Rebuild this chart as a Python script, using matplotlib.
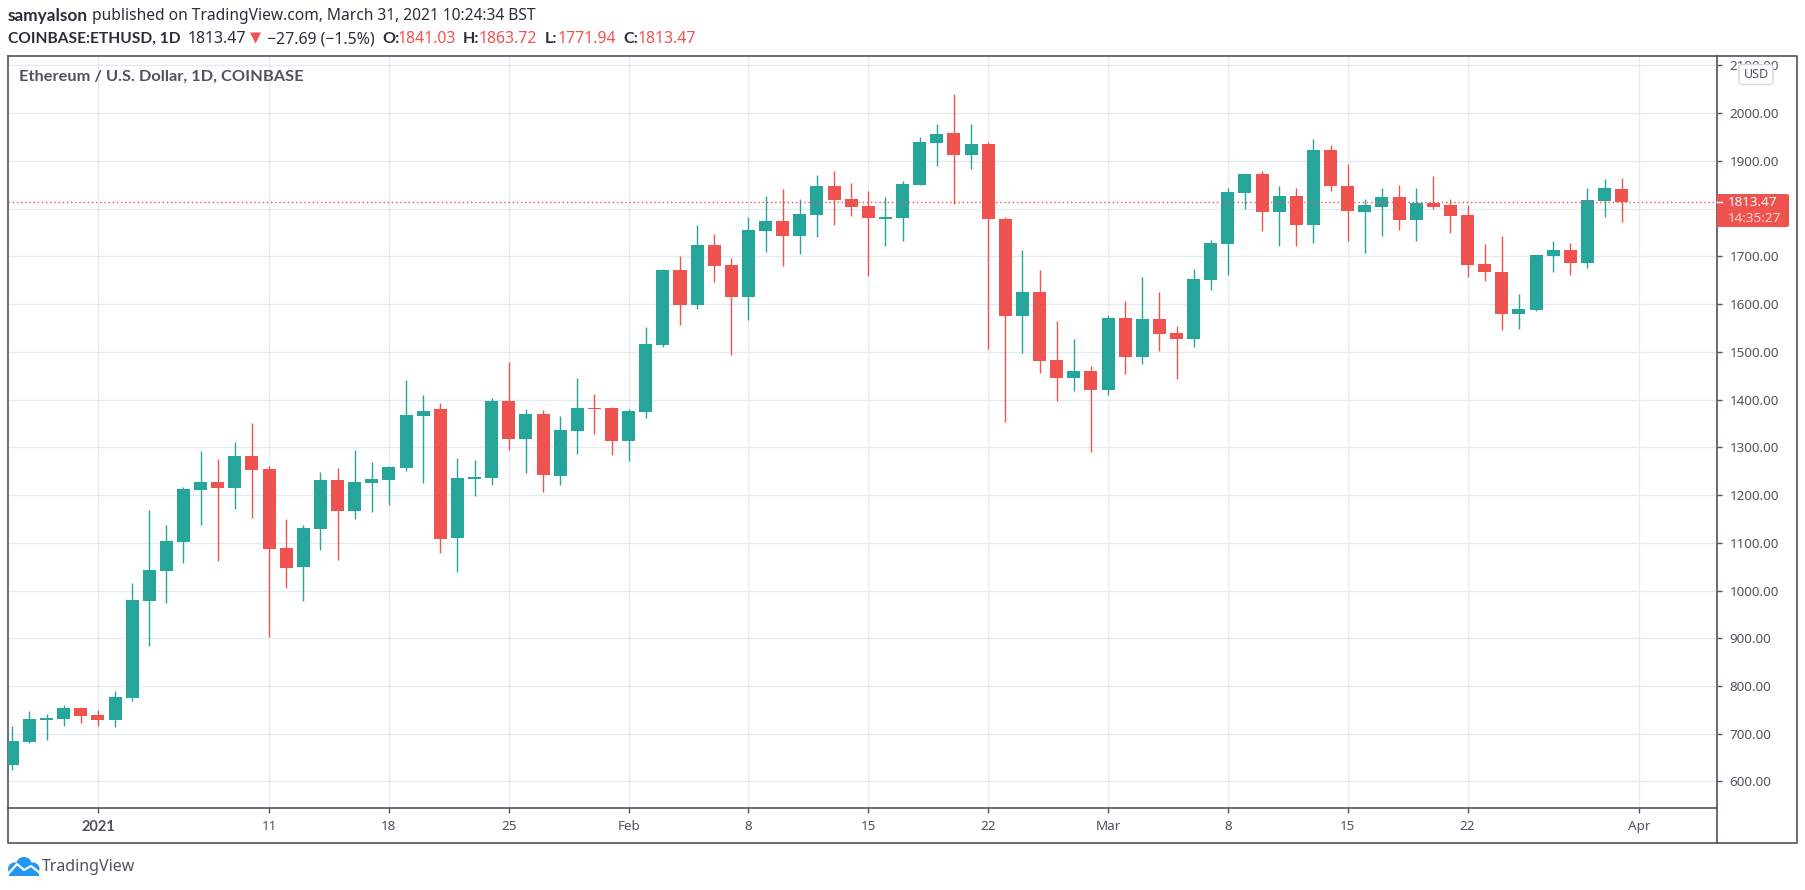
"""ETHUSD daily candles, TradingView snapshot style."""
import matplotlib
matplotlib.use('Agg')
import matplotlib.pyplot as plt
import matplotlib.dates as mdates
import pandas as pd
from matplotlib.patches import Circle, FancyBboxPatch, Polygon, Rectangle

plt.rcParams['font.family'] = ['Noto Sans', 'DejaVu Sans']

W, H = 1805, 890
UP, DOWN = '#26a69a', '#ef5350'
INK, GRID = '#50535e', '#e3ebf1'
BLUE = '#2196f3'
BOLD = ['Lato', 'DejaVu Sans']

first_day = '2020-12-27'
opens = [634, 682, 728, 730.5, 753.6, 739, 728, 774.5, 977.7, 1040.5, 1101, 1210, 1227, 1214, 1281, 1254,
         1089, 1049, 1128, 1231, 1166, 1225, 1231, 1256, 1365, 1380, 1110, 1233, 1235.4, 1397, 1317, 1369.5,
         1240, 1334, 1382, 1382, 1313, 1373.6, 1514, 1671, 1598, 1723, 1681.5, 1614.5, 1753, 1773.6, 1742, 1786,
         1847, 1820, 1805, 1779, 1781, 1850, 1938, 1959, 1913, 1936, 1779, 1575.6, 1626, 1483, 1444, 1460,
         1420.6, 1571, 1488, 1569, 1540, 1527, 1651, 1726, 1833, 1873, 1793.4, 1827, 1764.6, 1921.6, 1848, 1792,
         1804, 1825, 1775, 1810.6, 1806.5, 1785.5, 1683, 1668, 1580, 1586.6, 1700, 1714, 1685, 1815, 1841.03]
highs = [716, 747, 741, 760, 755.7, 749, 789, 1015, 1168, 1137, 1216, 1292, 1275, 1311, 1350, 1260,
         1149, 1137, 1248, 1256, 1294, 1269, 1260, 1440, 1409, 1392, 1277, 1273, 1403, 1478, 1380, 1378,
         1365, 1445, 1411, 1384, 1380, 1552, 1673, 1700, 1765, 1746, 1696, 1782, 1826, 1841, 1820, 1870,
         1878, 1853, 1836, 1825, 1858, 1950, 1976, 2040.5, 1978, 1940, 1783, 1714, 1672, 1565, 1526, 1471,
         1576, 1607, 1657, 1626, 1553, 1674, 1735, 1844, 1873, 1879, 1848, 1842, 1944.7, 1932, 1894, 1819,
         1842, 1850, 1842, 1869, 1819, 1806.5, 1725, 1741.5, 1622, 1702, 1733, 1727, 1842, 1861, 1863.72]
lows = [624, 681, 686.5, 716, 722, 716, 714, 768, 883, 973.5, 1057, 1137, 1061, 1170, 1151.5, 902,
        1005, 978, 1084.5, 1063.5, 1149, 1164, 1179, 1250, 1226, 1078, 1038.7, 1198, 1221, 1294, 1246, 1206,
        1221, 1286, 1328, 1284, 1271, 1361, 1510, 1556, 1589, 1646, 1493, 1566, 1709, 1679, 1704, 1740,
        1765, 1784, 1658, 1722, 1733, 1849, 1888, 1810, 1883, 1506, 1353.6, 1498, 1456, 1397.5, 1418.5, 1291,
        1410, 1454, 1475, 1502, 1442, 1511, 1630, 1661, 1798, 1753.6, 1722, 1720.6, 1727, 1836, 1733, 1706,
        1741.5, 1756, 1733, 1800, 1748, 1656, 1649, 1544.7, 1547, 1586, 1666, 1660, 1674.5, 1783, 1771.94]
closes = [684.5, 730.5, 732.6, 753.6, 737, 728, 776.6, 980, 1042.6, 1103, 1212, 1227, 1214, 1281, 1252, 1087,
          1047, 1130.5, 1231, 1166, 1227, 1233, 1258, 1367, 1376, 1107.5, 1235, 1237.5, 1397, 1317, 1369.5, 1242,
          1336, 1382, 1380, 1313, 1376, 1516, 1671, 1598, 1723, 1679, 1614.5, 1755, 1773.6, 1742, 1788, 1847,
          1818, 1803, 1780, 1783, 1852, 1940, 1957, 1913, 1936, 1777, 1575.6, 1626, 1481, 1444, 1460, 1420.6,
          1571.4, 1488, 1569, 1538, 1527, 1653, 1728.4, 1835, 1873, 1793.4, 1827, 1766, 1921.6, 1848, 1794, 1806.5,
          1825, 1775, 1810.6, 1804, 1783.4, 1681, 1666, 1580, 1588.6, 1702, 1714, 1685, 1817, 1842, 1813.47]
price_ticks = [600, 700, 800, 900, 1000, 1100, 1200, 1300, 1400, 1500, 1600, 1700, 1800, 1900, 2000, 2100]
date_ticks = ['2021-01-01', '2021-01-11', '2021-01-18', '2021-01-25', '2021-02-01', '2021-02-08', '2021-02-15',
              '2021-02-22', '2021-03-01', '2021-03-08', '2021-03-15', '2021-03-22', '2021-04-01']
date_labels = ['2021', '11', '18', '25', 'Feb', '8', '15', '22', 'Mar', '8', '15', '22', 'Apr']
last_price = 1813.47

fig = plt.figure(figsize=(W / 100, H / 100), dpi=100, facecolor='white')

# chart panel sits at x 8..1716.5, y 56..808 in pixels
ax = fig.add_axes([8 / W, 1 - 808 / H, (1716.5 - 8) / W, (808 - 56) / H])
days = mdates.date2num(pd.date_range(first_day, periods=len(opens)))
cols = [UP if c >= o else DOWN for o, c in zip(opens, closes)]
tops = [max(o, c) for o, c in zip(opens, closes)]
bots = [min(o, c) for o, c in zip(opens, closes)]

ax.vlines(days, lows, highs, colors=cols, lw=1.0, zorder=3)
ax.bar(days, [t - b for t, b in zip(tops, bots)], bottom=bots, width=0.76, color=cols, lw=0, zorder=4)
ax.axhline(last_price, color=DOWN, ls=(0, (1, 2)), lw=1.0, zorder=5)

day0 = days[0]
ax.set_xlim(day0 - 0.25, day0 + 99.54)
ax.set_ylim(544.5, 2119.4)
ax.set_xticks(mdates.date2num(pd.to_datetime(date_ticks)))
ax.set_xticklabels(date_labels, fontsize=9.7, color=INK)
ax.get_xticklabels()[0].set_family(BOLD)
ax.get_xticklabels()[0].set_fontweight('bold')
ax.get_xticklabels()[0].set_fontsize(10.5)
ax.yaxis.tick_right()
ax.set_yticks(price_ticks)
# the 1800 label is hidden behind the last price tag
ax.set_yticklabels(['' if p == 1800 else f'{p:.2f}' for p in price_ticks], fontsize=9.7, color=INK)
ax.tick_params(axis='x', length=3.5, width=1, color=INK, pad=5)
ax.tick_params(axis='y', length=3.5, width=1, color=INK, pad=6)
ax.grid(color=GRID, lw=1)
ax.set_axisbelow(True)
for s in ax.spines.values():
    s.set_color(INK)
    s.set_linewidth(1.2)

# overlay in pixel coordinates for the frame, header text and logo
ov = fig.add_axes([0, 0, 1, 1], zorder=10)
ov.set_xlim(0, W); ov.set_ylim(H, 0); ov.axis('off')
ov.plot([1716.5, 1797, 1797, 8, 8], [56, 56, 843, 843, 808], color=INK, lw=1.2)
ov.plot([1716.5, 1716.5], [808, 843], color=INK, lw=1.2)


def txt(x, y, s, color='#2a2e39', fs=11.2, **kw):
    ov.text(x, y, s, color=color, fontsize=fs, va='center', **kw)


def bold(x, y, s, color='#2a2e39', fs=11.2):
    ov.text(x, y, s, color=color, fontsize=fs, va='center', family=BOLD, fontweight='bold')


bold(8, 16.5, 'samyalson', fs=12.4)
txt(92.5, 16.5, 'published on TradingView.com, March 31, 2021 10:24:34 BST')
bold(8, 39, 'COINBASE:ETHUSD, 1D')
txt(187.5, 39, '1813.47', fs=11.4)
ov.add_patch(Polygon([(250, 32.5), (261, 32.5), (255.5, 43.5)], closed=True, fc=DOWN, ec='none'))
txt(267, 39, '−27.69 (−1.5%)', fs=11.4)
for x, lab, xv, val in [(382, 'O:', 398, '1841.03'), (463, 'H:', 479, '1863.72'),
                        (544.5, 'L:', 558, '1771.94'), (623, 'C:', 638, '1813.47')]:
    bold(x, 39, lab, fs=11.6)
    txt(xv, 39, val, color=DOWN, fs=11.4)
bold(19, 76.5, 'Ethereum / U.S. Dollar, 1D, COINBASE', color=INK, fs=11.8)

# last price tag on the axis
ov.add_patch(FancyBboxPatch((1717, 194), 72, 33, boxstyle='round,pad=0,rounding_size=2', fc=DOWN, ec='none'))
ov.plot([1717, 1722], [202.3, 202.3], color='white', lw=1)
txt(1728, 202, '1813.47', color='white', fs=9.7)
txt(1728, 218, '14:35:27', color='#fbd5d4', fs=9.7)

# currency badge covers part of the top tick label
ov.add_patch(FancyBboxPatch((1739, 64.5), 34, 20, boxstyle='round,pad=0,rounding_size=3',
                            fc='white', ec='#d6d8e0', lw=1))
txt(1756, 74.5, 'USD', color=INK, fs=9, ha='center')

# logo: cloud made of circles with a white line through it
for cx, cy, r in [(14.5, 869, 6.5), (24, 865, 8), (33, 869, 6.5)]:
    ov.add_patch(Circle((cx, cy), r, fc=BLUE, ec='none'))
ov.add_patch(Rectangle((9, 869), 30, 7, fc=BLUE, ec='none'))
ov.plot([8, 17, 24, 31, 40], [874, 864, 870, 866, 873], color='white', lw=1.6)
txt(42, 867, 'TradingView', color=INK, fs=11.5)

fig.savefig('out.png', dpi=100)
